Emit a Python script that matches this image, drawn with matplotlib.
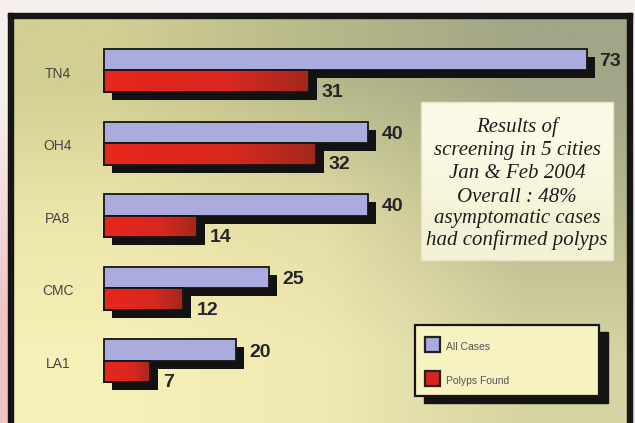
import numpy as np
import matplotlib
matplotlib.use("Agg")
import matplotlib.pyplot as plt
from matplotlib.colors import LinearSegmentedColormap, to_rgb
from matplotlib.patches import Rectangle
from matplotlib.transforms import ScaledTranslation

# ---------------- data ----------------
cities = ["TN4", "OH4", "PA8", "CMC", "LA1"]
all_cases = [73, 40, 40, 25, 20]
polyps_found = [31, 32, 14, 12, 7]
legend_labels = ["All Cases", "Polyps Found"]
note_lines = ["Results of", "screening in 5 cities", "Jan & Feb 2004",
              "Overall : 48%", "asymptomatic cases", "had confirmed polyps"]

W, H, DPI = 635, 423, 100
fig = plt.figure(figsize=(W / DPI, H / DPI), dpi=DPI)

def rgb(c):
    return np.array(to_rgb(c))

# ---------------- background (pixel coordinates) ----------------
bg = fig.add_axes([0, 0, 1, 1], zorder=0)
bg.set_xlim(0, W); bg.set_ylim(H, 0); bg.axis("off")
outer = np.array([[rgb("#f7eeee"), rgb("#f6efee")],
                  [rgb("#efc4c4"), rgb("#f3dede")]])
bg.imshow(outer, extent=(0, W, H, 0), interpolation="bilinear", aspect="auto")

panel = np.array([
    [rgb("#d2cf92"), rgb("#b7b98a"), rgb("#a2a586")],
    [rgb("#ece6ab"), rgb("#e4dea6"), rgb("#b9ba8f")],
    [rgb("#f7f1b9"), rgb("#f0eab2"), rgb("#d6d4a3")],
])
bg.imshow(panel, extent=(11, 630, H, 16), interpolation="bilinear", aspect="auto")
frame_c = "#161616"
bg.add_patch(Rectangle((8, 13), 5, H, color=frame_c))
bg.add_patch(Rectangle((8, 13), 624, 5, color=frame_c))
bg.add_patch(Rectangle((627, 13), 5, H, color=frame_c))
bg.set_xlim(0, W); bg.set_ylim(H, 0)

# ---------------- bars ----------------
ax = fig.add_axes([0, 0, 1, 1], zorder=1)
ax.patch.set_alpha(0)
ax.axis("off")
k = 6.61      # pixels per unit
x0 = 104      # pixel position of zero
g0, gs = 70.5, 72.6
xlim = (-x0 / k, (W - x0) / k)
ylim = ((H - g0) / gs, -g0 / gs)

y = np.arange(len(cities))
hb = 21.5 / gs
shadow = ax.transData + ScaledTranslation(8 / DPI, -8 / DPI, fig.dpi_scale_trans)

ax.barh(y - hb / 2, all_cases, height=hb, color="#121212", transform=shadow, zorder=1)
ax.barh(y + hb / 2, polyps_found, height=hb, color="#121212", transform=shadow, zorder=1)
ax.barh(y - hb / 2, all_cases, height=hb, color="#a9acdc",
        edgecolor="#151515", linewidth=1.3, zorder=2)
red = ax.barh(y + hb / 2, polyps_found, height=hb, color="#d8231c",
              edgecolor="#151515", linewidth=1.3, zorder=3)

red_cmap = LinearSegmentedColormap.from_list(
    "redgrad", [(0, "#e8261d"), (0.6, "#d9281f"), (1, "#a2291d")])
grad = np.linspace(0, 1, 256).reshape(1, -1)
for p in red.patches:
    x, yy = p.get_x(), p.get_y()
    w, h = p.get_width(), p.get_height()
    im = ax.imshow(grad, cmap=red_cmap, extent=(x, x + w, yy + h, yy),
                   aspect="auto", interpolation="bilinear", zorder=3.2)
    im.set_clip_path(p)
ax.barh(y + hb / 2, polyps_found, height=hb, fill=False,
        edgecolor="#151515", linewidth=1.3, zorder=3.4)

for i, (a, p) in enumerate(zip(all_cases, polyps_found)):
    ax.annotate(str(a), xy=(a, i - hb / 2), xytext=(13, -2),
                textcoords="offset pixels", ha="left", va="center",
                fontsize=14, fontweight="bold", color="#262626",
                family="Liberation Sans", zorder=5)
    ax.annotate(str(p), xy=(p, i + hb / 2), xytext=(13, -11),
                textcoords="offset pixels", ha="left", va="center",
                fontsize=14, fontweight="bold", color="#262626",
                family="Liberation Sans", zorder=5)
    ax.annotate(cities[i], xy=(0, i), xytext=(-46, -3),
                textcoords="offset pixels", ha="center", va="center",
                fontsize=10, color="#444444", family="Liberation Sans")

ax.set_xlim(*xlim)
ax.set_ylim(*ylim)

# ---------------- note box & legend (pixel coordinates) ----------------
dc = fig.add_axes([0, 0, 1, 1], zorder=2)
dc.patch.set_alpha(0)
dc.axis("off")
box = np.array([[rgb("#fbfae6")], [rgb("#f4f2d6")]])
dc.imshow(box, extent=(421, 613, 260, 102), interpolation="bilinear", aspect="auto")
dc.add_patch(Rectangle((421, 102), 192, 158, fill=False,
                       edgecolor="#e6e4c4", linewidth=1.0))
line_y = [127, 150, 173, 197, 219, 240]
for t, ly in zip(note_lines, line_y):
    dc.text(517, ly, t, ha="center", va="center", fontsize=15,
            family="Liberation Serif", style="italic", color="#1e1e1e")

dc.add_patch(Rectangle((424, 332), 184, 71, color="#141414"))
dc.add_patch(Rectangle((415, 325), 184, 71, facecolor="#f6f2c2",
                       edgecolor="#161616", linewidth=1.6))
leg_colors = ["#a9acdc", "#d8231c"]
leg_y = [345, 379]
for lab, c, ly in zip(legend_labels, leg_colors, leg_y):
    dc.add_patch(Rectangle((425, ly - 7.5), 15, 15, facecolor=c,
                           edgecolor="#222222", linewidth=1.6))
    dc.text(446, ly + 2, lab, ha="left", va="center", fontsize=7.5,
            color="#555555", family="Liberation Sans")

dc.set_xlim(0, W); dc.set_ylim(H, 0)

fig.savefig("out.png", dpi=DPI)
